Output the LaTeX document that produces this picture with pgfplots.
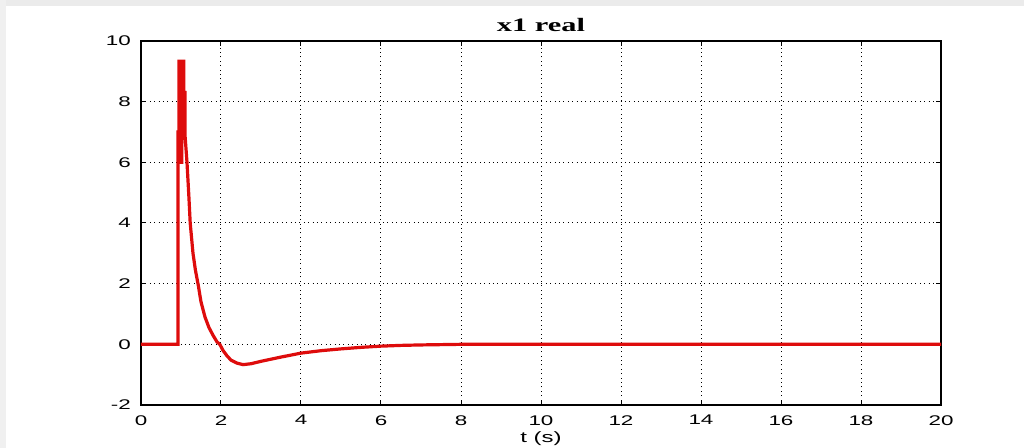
\documentclass[border=0pt]{standalone}
\usepackage{fontspec}
\setmainfont{Liberation Sans}
\newfontfamily\tickfont[FakeStretch=1.6]{Liberation Sans}
\newfontfamily\titlefont[FakeStretch=1.6]{Liberation Serif}
\usepackage{pgfplots}
\pgfplotsset{compat=1.18}
\definecolor{curvered}{RGB}{222,12,12}
\begin{document}
\begin{tikzpicture}
\begin{axis}[
  at={(0,0)}, anchor=south west,
  scale only axis, width=400pt, height=182pt,
  xmin=0, xmax=20, ymin=-2, ymax=10,
  xtick={0,2,...,20}, ytick={-2,0,...,10},
  xticklabels={0,2,4,6,8,10,12,14,16,18,20},
  yticklabels={-2,0,2,4,6,8,10},
  tick align=inside,
  major tick length=2.5pt,
  tick style={black, line width=0.5pt},
  axis line style={black, line width=0.6pt},
  grid=major,
  major grid style={black, line width=0.5pt, dash pattern=on 0.5pt off 1.7pt},
  tick label style={font=\tickfont\fontsize{7}{8}\selectfont},
  xticklabel style={yshift=-1.6pt},
  yticklabel style={xshift=-1.6pt},
  title={x1 real},
  title style={font=\titlefont\bfseries\fontsize{9.5}{11}\selectfont, at={(axis description cs:0.5,1)}, anchor=base, yshift=-1.5pt},
  xlabel={t (s)},
  xlabel style={font=\tickfont\fontsize{7.5}{9}\selectfont, at={(axis description cs:0.5,0)}, anchor=base, yshift=-19pt},
]
\addplot[curvered, line width=1.6pt, line join=miter] coordinates {
(0,0) (0.925,0) (0.925,7) (0.95,7) (0.95,9.33) (0.99,9.33) (0.99,6.0) (1.02,6.0)
(1.02,9.33) (1.07,9.33) (1.07,8.3) (1.1,8.3)
(1.1,6.9) (1.15,6.0) (1.2,4.8) (1.23,4.0) (1.3,3.0) (1.36,2.45) (1.43,1.96)
(1.5,1.4) (1.6,0.9) (1.7,0.55) (1.8,0.3) (1.9,0.08) (1.97,0) (2.05,-0.2)
(2.15,-0.38) (2.25,-0.52) (2.4,-0.62) (2.55,-0.67) (2.75,-0.64) (3,-0.56)
(3.5,-0.42) (4,-0.29) (4.5,-0.21) (5,-0.15) (5.5,-0.1) (6,-0.06) (6.5,-0.035)
(7,-0.02) (7.5,-0.01) (8,0) (20,0)
};
\end{axis}
\pgfresetboundingbox
\path[use as bounding box] (-70.5pt,-21.5pt) rectangle (441.5pt,202.5pt);
\fill[black!8] (-70.5pt,199.5pt) rectangle (441.5pt,202.5pt);
\fill[black!6] (-70.5pt,-21.5pt) rectangle (-67.5pt,202.5pt);
\end{tikzpicture}
\end{document}
